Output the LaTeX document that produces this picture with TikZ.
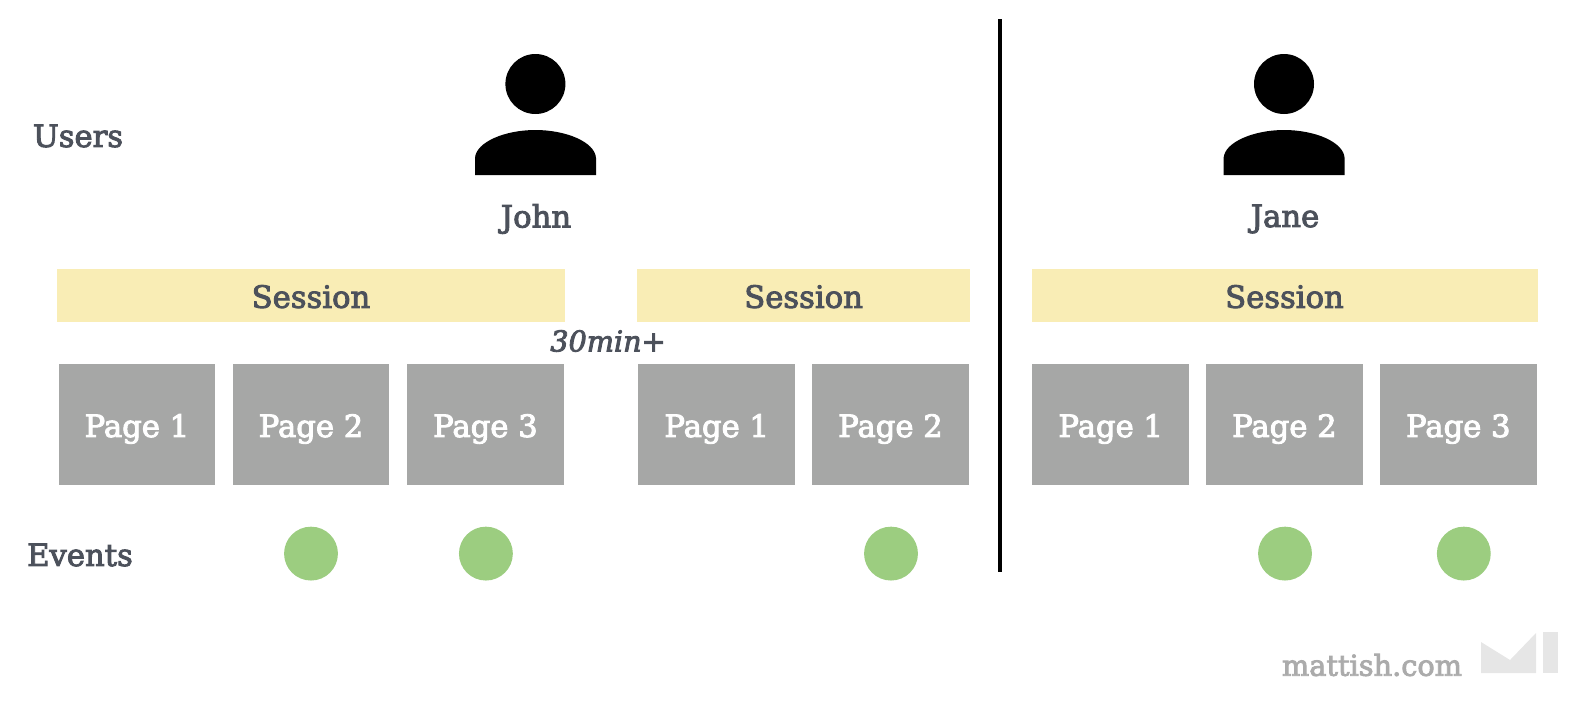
\documentclass[tikz,border=0pt]{standalone}
\usepackage{fontspec}
\setmainfont{DejaVu Serif}[UprightFeatures={FakeBold=3},ItalicFeatures={FakeBold=3}]
\definecolor{labelgray}{HTML}{4C515B}
\definecolor{sessionyellow}{HTML}{F9EDB5}
\definecolor{pagegray}{HTML}{A6A7A6}
\definecolor{eventgreen}{HTML}{9CCD80}
\definecolor{markgray}{HTML}{ABABAB}
\definecolor{logogray}{HTML}{E6E6E6}
\tikzset{
  lbl/.style={text=labelgray,font=\fontsize{23}{27}\selectfont,inner sep=0pt},
  session/.style={fill=sessionyellow,text=labelgray,font=\fontsize{23}{27}\selectfont,inner sep=0pt,text height=18.8pt,minimum height=40.2pt},
  page/.style={fill=pagegray,text=white,font=\fontsize{23}{27}\selectfont,inner sep=0pt,text height=19pt,text depth=0pt,minimum width=117.4pt,minimum height=90.9pt},
  event/.style={circle,fill=eventgreen,inner sep=0pt,minimum size=40.4pt}
}
\begin{document}
\begin{tikzpicture}[x=0.75pt,y=-0.75pt]
\useasboundingbox (0,0) rectangle (1584,700);
\node [lbl] (users) at (78,136) {Users};
\node [lbl] (events) at (80,555) {Events};
\fill (535.4,84) circle (30);
\fill (475,175) -- (475,158) .. controls (476,142) and (505,130) .. (535.4,130)
  .. controls (566,130) and (595,142) .. (596,158) -- (596,175) -- cycle;
\node [lbl] (john) at (536,219) {John};
\fill (1284,84) circle (30);
\fill (1223.6,175) -- (1223.6,158) .. controls (1224.6,142) and (1254,130) .. (1284,130)
  .. controls (1315,130) and (1343.6,142) .. (1344.6,158) -- (1344.6,175) -- cycle;
\node [lbl] (jane) at (1285,219) {Jane};
\node [session,minimum width=380.3pt] (s1) at (311,295.5) {Session};
\node [session,minimum width=249.3pt] (s2) at (803.6,295.5) {Session};
\node [session,minimum width=379.5pt] (s3) at (1284.5,295.5) {Session};
\node [lbl,font=\fontsize{21.5}{25}\selectfont\itshape] (gap) at (608,341) {30min+};
\node [page] (p1) at (136.9,424.3) {Page 1};
\node [page] (p2) at (311,424.3) {Page 2};
\node [page] (p3) at (485.4,424.3) {Page 3};
\node [page] (p4) at (716.7,424.3) {Page 1};
\node [page] (p5) at (890.5,424.3) {Page 2};
\node [page] (p6) at (1110.7,424.3) {Page 1};
\node [page] (p7) at (1284.4,424.3) {Page 2};
\node [page] (p8) at (1458.3,424.3) {Page 3};
\node [event] (e1) at (311,553.6) {};
\node [event] (e2) at (485.9,553.6) {};
\node [event] (e3) at (891,553.6) {};
\node [event] (e4) at (1285,553.6) {};
\node [event] (e5) at (1463.8,553.6) {};
\coordinate (top) at (1000,19);
\coordinate (bottom) at (1000,572);
\draw [line width=3pt] (top) -- (bottom);
\node [lbl,text=markgray,font=\fontsize{21.6}{25}\selectfont] (mark) at (1372,665) {mattish.com};
\fill [logogray] (1481,642) -- (1510,660) -- (1536,633) -- (1536,673) -- (1481,673) -- cycle;
\fill [logogray] (1543,632) rectangle (1558,673);
\end{tikzpicture}
\end{document}
